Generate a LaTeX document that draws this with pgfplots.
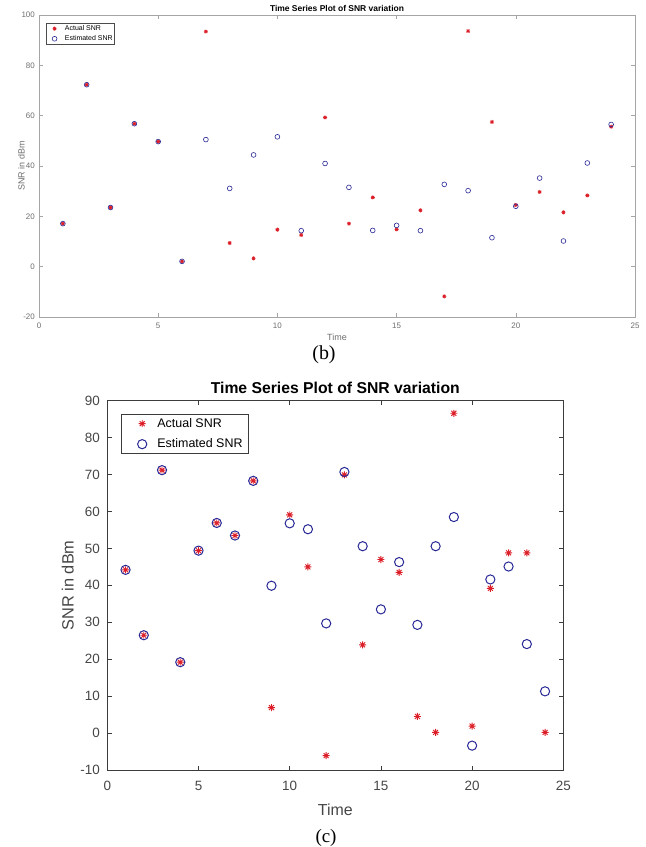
\documentclass[border=0pt]{standalone}
\usepackage{fontspec}
\setmainfont{Liberation Sans}
\newfontfamily\capfont{Liberation Serif}
\usepackage{pgfplots}
\usepackage{pgfplotstable}
\pgfplotsset{compat=1.18}

\pgfdeclareplotmark{mstar}{%
 \pgfpathmoveto{\pgfqpoint{-\pgfplotmarksize}{0pt}}\pgfpathlineto{\pgfqpoint{\pgfplotmarksize}{0pt}}%
 \pgfpathmoveto{\pgfqpoint{0pt}{-\pgfplotmarksize}}\pgfpathlineto{\pgfqpoint{0pt}{\pgfplotmarksize}}%
 \pgfpathmoveto{\pgfqpoint{-0.707\pgfplotmarksize}{-0.707\pgfplotmarksize}}\pgfpathlineto{\pgfqpoint{0.707\pgfplotmarksize}{0.707\pgfplotmarksize}}%
 \pgfpathmoveto{\pgfqpoint{-0.707\pgfplotmarksize}{0.707\pgfplotmarksize}}\pgfpathlineto{\pgfqpoint{0.707\pgfplotmarksize}{-0.707\pgfplotmarksize}}%
 \pgfusepathqstroke}

\definecolor{mred}{RGB}{220,30,40}
\definecolor{mblue}{RGB}{40,40,150}
\definecolor{axgrayA}{RGB}{165,165,165}
\definecolor{axgrayB}{RGB}{60,60,60}
\definecolor{tkgrayA}{RGB}{110,110,110}
\definecolor{tkgrayB}{RGB}{70,70,70}

\pgfplotsset{
  legimgB/.style={legend image code/.code={\path (0bp,-1bp) (16.3bp,1bp); \draw[mark repeat=2,mark phase=2,##1] plot coordinates {(0bp,0bp) (7.3bp,0bp) (16.3bp,0bp)};}},
  legimgC/.style={legend image code/.code={\path (0bp,-1bp) (29.3bp,1bp); \draw[mark repeat=2,mark phase=2,##1] plot coordinates {(0bp,0bp) (16.6bp,0bp) (29.3bp,0bp)};}},
}

\pgfplotstableread{
t v
1 17.1
2 72.3
3 23.5
4 56.8
5 49.7
6 2.1
7 93.4
8 9.4
9 3.3
10 14.7
11 12.6
12 59.3
13 17.1
14 27.5
15 14.8
16 22.4
17 -11.8
18 93.6
19 57.5
20 24.5
21 29.7
22 21.6
23 28.3
24 55.6
}\bActual
\pgfplotstableread{
t v
1 17.1
2 72.3
3 23.5
4 56.8
5 49.7
6 2.1
7 50.5
8 31.1
9 44.4
10 51.6
11 14.3
12 41.0
13 31.5
14 14.4
15 16.4
16 14.3
17 32.7
18 30.2
19 11.5
20 24.0
21 35.2
22 10.2
23 41.2
24 56.5
}\bEst
\pgfplotstableread{
t v
1 44.2
2 26.5
3 71.2
4 19.2
5 49.4
6 56.9
7 53.5
8 68.3
9 6.9
10 59.1
11 45.0
12 -6.1
13 69.9
14 23.9
15 47.0
16 43.5
17 4.5
18 0.2
19 86.6
20 1.9
21 39.2
22 48.8
23 48.8
24 0.2
}\cActual
\pgfplotstableread{
t v
1 44.2
2 26.5
3 71.2
4 19.2
5 49.4
6 56.9
7 53.5
8 68.3
9 39.9
10 56.8
11 55.2
12 29.7
13 70.7
14 50.6
15 33.5
16 46.3
17 29.3
18 50.6
19 58.5
20 -3.4
21 41.6
22 45.1
23 24.1
24 11.3
}\cEst

\begin{document}
\begin{tikzpicture}
\useasboundingbox (0,0) rectangle (646bp,-847bp);
% ---------- (b) ----------
\begin{axis}[
  at={(39bp,-317bp)}, anchor=south west,
  scale only axis, width=596bp, height=302bp,
  xmin=0, xmax=25, ymin=-20, ymax=100,
  xtick={0,5,...,25}, ytick={-20,0,...,100},
  xtick pos=both, ytick pos=both,
  xticklabel pos=lower, yticklabel pos=left,
  tick align=inside, major tick length=4bp,
  axis line style={axgrayA, line width=0.8bp},
  every tick/.style={axgrayA, line width=0.6bp},
  /pgf/number format/assume math mode=true,
  tick label style={font=\fontsize{8}{9}\selectfont, text=tkgrayA},
  xticklabel style={inner sep=0pt, anchor=north, yshift=-6bp},
  yticklabel style={inner sep=0pt, anchor=east, xshift=-4bp},
  title={Time Series Plot of SNR variation},
  every axis title shift=0pt,
  title style={font=\bfseries\fontsize{8.5}{10}\selectfont, inner sep=0pt, at={(0.5,1)}, anchor=base, yshift=3.3bp},
  xlabel={Time}, ylabel={SNR in dBm},
  every axis x label/.style={at={(axis description cs:0.5,0)}, anchor=base, yshift=-23bp, inner sep=0pt, font=\fontsize{9}{10}\selectfont, text=tkgrayA},
  every axis y label/.style={at={(axis description cs:-0.0294,0.5)}, rotate=90, anchor=center, inner sep=0pt, font=\fontsize{9}{10}\selectfont, text=tkgrayA},
  legend style={at={(axis description cs:0.0112,0.9745)}, anchor=north west,
    font=\fontsize{7}{8}\selectfont, draw=black!70, line width=0.5bp,
    inner xsep=1bp, inner ysep=1.5bp, row sep=1.5bp, nodes={inner sep=1bp}},
  legend cell align=left,
]
\addplot[only marks, mark=mstar, mark size=2bp, mred, line width=0.7bp, legimgB] table[x=t,y=v] {\bActual};
\addlegendentry{Actual SNR}
\addplot[only marks, mark=o, mark size=2.4bp, mblue, line width=0.6bp, legimgB] table[x=t,y=v] {\bEst};
\addlegendentry{Estimated SNR}
\end{axis}
\node[font=\capfont\fontsize{20}{20}\selectfont, anchor=base, inner sep=0pt] at (324bp,-359bp) {(b)};
% ---------- (c) ----------
\begin{axis}[
  at={(107.3bp,-770bp)}, anchor=south west,
  scale only axis, width=456bp, height=369.3bp,
  xmin=0, xmax=25, ymin=-10, ymax=90,
  xtick={0,5,...,25}, ytick={-10,0,...,90},
  xtick pos=both, ytick pos=both,
  xticklabel pos=lower, yticklabel pos=left,
  tick align=inside, major tick length=4.5bp,
  axis line style={axgrayB, line width=0.9bp},
  every tick/.style={axgrayB, line width=0.8bp},
  /pgf/number format/assume math mode=true,
  tick label style={font=\fontsize{13.5}{15}\selectfont, text=tkgrayB},
  xticklabel style={inner sep=0pt, anchor=north, yshift=-11.2bp},
  yticklabel style={inner sep=0pt, anchor=east, xshift=-7.3bp},
  title={Time Series Plot of SNR variation},
  every axis title shift=0pt,
  title style={font=\bfseries\fontsize{15.8}{18}\selectfont, inner sep=0pt, at={(0.5,1)}, anchor=base, yshift=7.4bp},
  xlabel={Time}, ylabel={SNR in dBm},
  every axis x label/.style={at={(axis description cs:0.5,0)}, anchor=base, yshift=-45bp, inner sep=0pt, font=\fontsize{16}{18}\selectfont, text=tkgrayB},
  every axis y label/.style={at={(axis description cs:-0.0866,0.5)}, rotate=90, anchor=center, inner sep=0pt, font=\fontsize{16.4}{18}\selectfont, text=tkgrayB},
  legend style={at={(axis description cs:0.0294,0.964)}, anchor=north west,
    font=\fontsize{12.5}{14}\selectfont, draw=axgrayB, line width=0.8bp,
    inner xsep=4bp, inner ysep=2bp, row sep=6bp, nodes={inner sep=2bp}},
  legend cell align=left,
]
\addplot[only marks, mark=mstar, mark size=3.5bp, mred, line width=0.9bp, legimgC] table[x=t,y=v] {\cActual};
\addlegendentry{Actual SNR}
\addplot[only marks, mark=o, mark size=4.6bp, mblue, line width=1bp, legimgC] table[x=t,y=v] {\cEst};
\addlegendentry{Estimated SNR}
\end{axis}
\node[font=\capfont\fontsize{19}{19}\selectfont, anchor=base, inner sep=0pt] at (326bp,-842bp) {(c)};
\end{tikzpicture}
\end{document}
